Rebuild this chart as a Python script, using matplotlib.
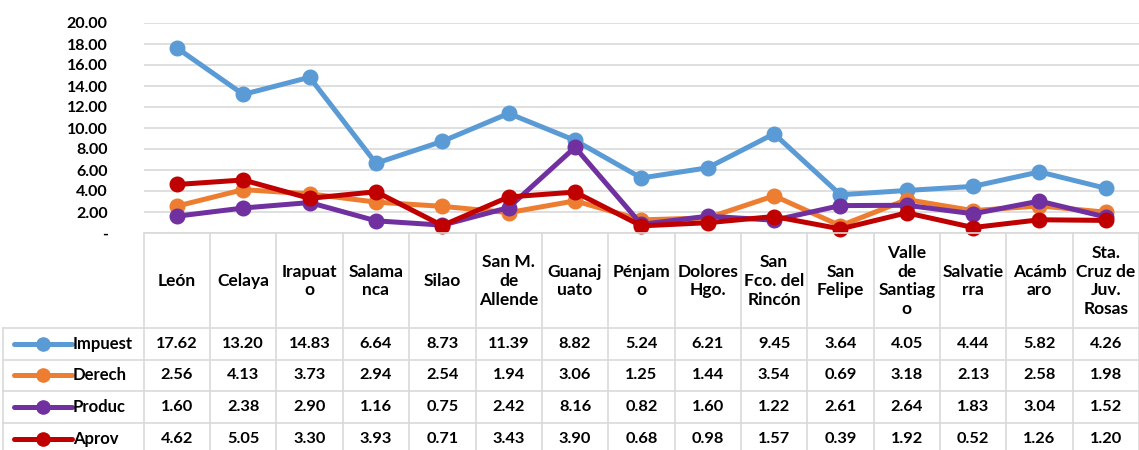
import matplotlib
matplotlib.use("Agg")
import matplotlib.pyplot as plt
from matplotlib.lines import Line2D

categories = ["León", "Celaya", "Irapuat\no", "Salama\nnca", "Silao", "San M.\nde\nAllende",
              "Guanaj\nuato", "Pénjam\no", "Dolores\nHgo.", "San\nFco. del\nRincón", "San\nFelipe",
              "Valle\nde\nSantiag\no", "Salvatie\nrra", "Acámb\naro", "Sta.\nCruz de\nJuv.\nRosas"]
series_names = ["Impuest", "Derech", "Produc", "Aprov"]
impuest = [17.62, 13.20, 14.83, 6.64, 8.73, 11.39, 8.82, 5.24, 6.21, 9.45, 3.64, 4.05, 4.44, 5.82, 4.26]
derech = [2.56, 4.13, 3.73, 2.94, 2.54, 1.94, 3.06, 1.25, 1.44, 3.54, 0.69, 3.18, 2.13, 2.58, 1.98]
produc = [1.60, 2.38, 2.90, 1.16, 0.75, 2.42, 8.16, 0.82, 1.60, 1.22, 2.61, 2.64, 1.83, 3.04, 1.52]
aprov = [4.62, 5.05, 3.30, 3.93, 0.71, 3.43, 3.90, 0.68, 0.98, 1.57, 0.39, 1.92, 0.52, 1.26, 1.20]
colors = ["#5B9BD5", "#ED7D31", "#7030A0", "#C00000"]
yticks = [0, 2, 4, 6, 8, 10, 12, 14, 16, 18, 20]

series = [impuest, derech, produc, aprov]
FONT = "Lato"
W, H = 1139, 450
fig = plt.figure(figsize=(W / 100, H / 100), dpi=100)

grid_c = "#D9D9D9"
left_px, right_px = 143.75, 1139
top_px, zero_px = 23, 233
n = len(categories)
colw = (right_px - left_px) / n

ax = fig.add_axes([left_px / W, (H - zero_px) / H, (right_px - left_px) / W, (zero_px - top_px) / H])
x = list(range(n))
for vals, c in zip(series, colors):
    ax.plot(x, vals, color=c, lw=3.6, marker="o", ms=10.5, solid_capstyle="round",
            solid_joinstyle="round", clip_on=False)
ax.set_xlim(-0.5, n - 0.5)
ax.set_ylim(0, 20)
ax.set_yticks(yticks)
ax.set_yticklabels(["-" if v == 0 else f"{v:.2f}" for v in yticks], fontfamily=FONT,
                   fontweight="bold", fontsize=11.5)
ax.tick_params(axis="y", length=0, pad=26)
ax.set_xticks([])
ax.grid(axis="y", color=grid_c, lw=1.2)
ax.set_axisbelow(True)
for s in ["left", "right", "top"]:
    ax.spines[s].set_visible(False)
ax.spines["bottom"].set_color(grid_c)
ax.spines["bottom"].set_linewidth(1.2)

# Table axes: x in column units, y in pixels from top
leg_left = -0.5 - (left_px - 2) / colw
tx = fig.add_axes([2 / W, 0, (right_px - 2) / W, (H - zero_px) / H])
tx.set_xlim(leg_left, n - 0.5)
tx.set_ylim(H, zero_px)
tx.axis("off")

row_edges = [328, 359.5, 391, 423, 455]
for i in range(n + 1):
    tx.add_line(Line2D([i - 0.5, i - 0.5], [zero_px, H], color=grid_c, lw=1.2))
tx.add_line(Line2D([leg_left + 0.01, leg_left + 0.01], [row_edges[0], H], color=grid_c, lw=1.2))
for ye in row_edges[:-1]:
    tx.add_line(Line2D([leg_left, n - 0.5], [ye, ye], color=grid_c, lw=1.2))

for i, cat in enumerate(categories):
    tx.text(i, 281, cat, ha="center", va="center", fontfamily=FONT, fontweight="bold",
            fontsize=12.5, linespacing=1.22)

for r, (name, vals, c) in enumerate(zip(series_names, series, colors)):
    yc = (row_edges[r] + row_edges[r + 1]) / 2 if r < 3 else 439
    x0 = leg_left + 12 / colw
    x1 = leg_left + 70 / colw
    tx.add_line(Line2D([x0, x1], [yc, yc], color=c, lw=3.6, solid_capstyle="round"))
    tx.plot([(x0 + x1) / 2], [yc], marker="o", ms=9.5, color=c)
    tx.text(leg_left + 71 / colw, yc, name, ha="left", va="center", fontfamily=FONT,
            fontweight="bold", fontsize=12)
    for i, v in enumerate(vals):
        tx.text(i, yc, f"{v:.2f}", ha="center", va="center", fontfamily=FONT,
                fontweight="bold", fontsize=11.8)

fig.savefig("out.png", dpi=100, facecolor="white")
